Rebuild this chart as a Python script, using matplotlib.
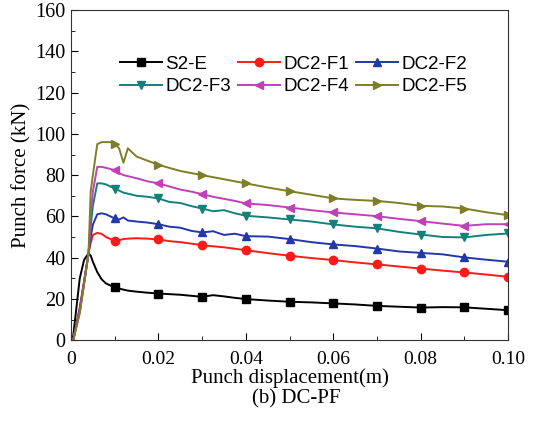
import numpy as np
import matplotlib
matplotlib.use("Agg")
import matplotlib.pyplot as plt
from matplotlib.ticker import MultipleLocator

# displacement grid (m)
disp = [0, 0.0005, 0.002, 0.003, 0.004, 0.0045, 0.005, 0.006, 0.007, 0.008, 0.009,
        0.010, 0.011, 0.012, 0.013, 0.015, 0.0175, 0.020, 0.0225, 0.025, 0.0275,
        0.030, 0.0325, 0.035, 0.0375, 0.040, 0.045, 0.050, 0.055, 0.060, 0.065,
        0.070, 0.075, 0.080, 0.085, 0.090, 0.095, 0.100]

s2_e = [0, 2, 30, 39, 42, 41, 38, 33, 29.5, 27.5, 26.5,
        25.8, 25, 24.5, 24, 23.5, 23, 22.6, 22.3, 22, 21.5,
        21, 21.8, 21.2, 20.5, 19.9, 19.2, 18.6, 18.3, 17.8, 17.3,
        16.6, 16.2, 15.8, 16, 15.9, 15.2, 14.5]
dc2_f1 = [0, 0, 16, 29, 42, 47, 51, 52, 51.5, 50, 49,
          48.2, 48.5, 49, 49.2, 49.4, 49.2, 48.8, 48, 47.5, 46.8,
          46, 45.5, 45, 44.3, 43.6, 42.2, 40.9, 39.8, 38.8, 37.7,
          36.7, 35.7, 34.7, 33.7, 32.8, 31.8, 30.7]
dc2_f2 = [0, 0, 15, 28, 42, 50, 56, 61, 61.5, 61, 60,
          59, 58.5, 59.5, 58, 57.5, 57, 56.2, 55, 54.5, 53,
          52.2, 52.8, 51, 51.6, 50.4, 50.2, 49, 47.5, 46.4, 45.6,
          44.4, 43, 42.3, 41.6, 40.1, 39, 38]
dc2_f3 = [0, 0, 14, 28, 42, 55, 65, 76, 76, 75.5, 74.5,
          73.5, 72.5, 71.5, 71, 70, 69.5, 68.7, 67, 66.5, 65,
          63.8, 62.5, 63, 61.5, 60.3, 59.5, 58.5, 57.5, 56.1, 55,
          54.2, 52.5, 51.2, 50, 49.8, 51, 51.7]
dc2_f4 = [0, 0, 14, 28, 42, 60, 72, 84, 84, 83.5, 83,
          82.4, 81, 80, 79.5, 78.5, 77, 76, 74.5, 73, 72,
          70.8, 69.5, 68.5, 67.5, 66.3, 65.5, 64.3, 63, 61.9, 61,
          60.1, 58.8, 57.7, 56.5, 55.4, 56.2, 56.2]
dc2_f5 = [0, 0, 13, 27, 42, 72, 80, 95, 96, 96, 96,
          95, 93, 86, 93, 89, 87, 85, 83.5, 82, 81,
          80, 79, 78, 77, 76, 74, 72.2, 70.5, 68.7, 68,
          67.5, 66.5, 65.1, 64.8, 63.8, 62, 60.6]

labels = ["S2-E", "DC2-F1", "DC2-F2", "DC2-F3", "DC2-F4", "DC2-F5"]
marker_x = [0.01, 0.02, 0.03, 0.04, 0.05, 0.06, 0.07, 0.08, 0.09, 0.10]

series = [s2_e, dc2_f1, dc2_f2, dc2_f3, dc2_f4, dc2_f5]
colors = ["#000000", "#ff1a1a", "#2338a8", "#14807a", "#c040b8", "#7e7e28"]
markers = ["s", "o", "^", "v", "<", ">"]

fig = plt.figure(figsize=(5.36, 4.22), dpi=100)
ax = fig.add_axes([0.1325, 0.194, 0.8155, 0.782])

x = np.array(disp)
mask = np.isin(np.round(x, 4), np.round(marker_x, 4))
lines = []
for y, lab, c, m in zip(series, labels, colors, markers):
    ln, = ax.plot(x, y, color=c, lw=1.4, marker=m, markersize=6,
                  markevery=list(np.where(mask)[0]), label=lab)
    lines.append(ln)

ax.set_xlim(0, 0.10)
ax.set_ylim(0, 160)
ax.xaxis.set_minor_locator(MultipleLocator(0.01))
ax.yaxis.set_major_locator(MultipleLocator(20))
ax.yaxis.set_minor_locator(MultipleLocator(10))
ax.set_xticks([0, 0.02, 0.04, 0.06, 0.08, 0.10])
ax.set_xticklabels(["0", "0.02", "0.04", "0.06", "0.08", "0.10"])
ax.tick_params(which="both", direction="in", top=False, right=False,
               labelsize=14.5, labelfontfamily="Liberation Serif")
ax.tick_params(which="major", length=5)
ax.tick_params(which="minor", length=3)
ax.tick_params(axis="x", pad=8, labelsize=14)
ax.tick_params(axis="y", pad=4)
for sp in ax.spines.values():
    sp.set_color("#333333")

ax.set_xlabel("Punch displacement(m)", fontsize=15, family="Liberation Serif", va="top")
ax.xaxis.set_label_coords(0.5, -0.085)
ax.set_ylabel("Punch force (kN)", fontsize=15, family="Liberation Serif", labelpad=3)
fig.text(0.552, 0.043, "(b) DC-PF", fontsize=15, family="Liberation Serif",
         ha="center", va="baseline")

# row-major legend order (matplotlib fills columns first)
order = [0, 3, 1, 4, 2, 5]
ax.legend([lines[i] for i in order], [labels[i] for i in order],
          ncol=3, loc="upper left", bbox_to_anchor=(0.095, 0.885), frameon=False,
          prop={"family": "Liberation Sans", "size": 13.5}, handlelength=2.25,
          handletextpad=0.15, columnspacing=0.4, labelspacing=0.3,
          borderaxespad=0)

fig.savefig("out.png", dpi=100)
